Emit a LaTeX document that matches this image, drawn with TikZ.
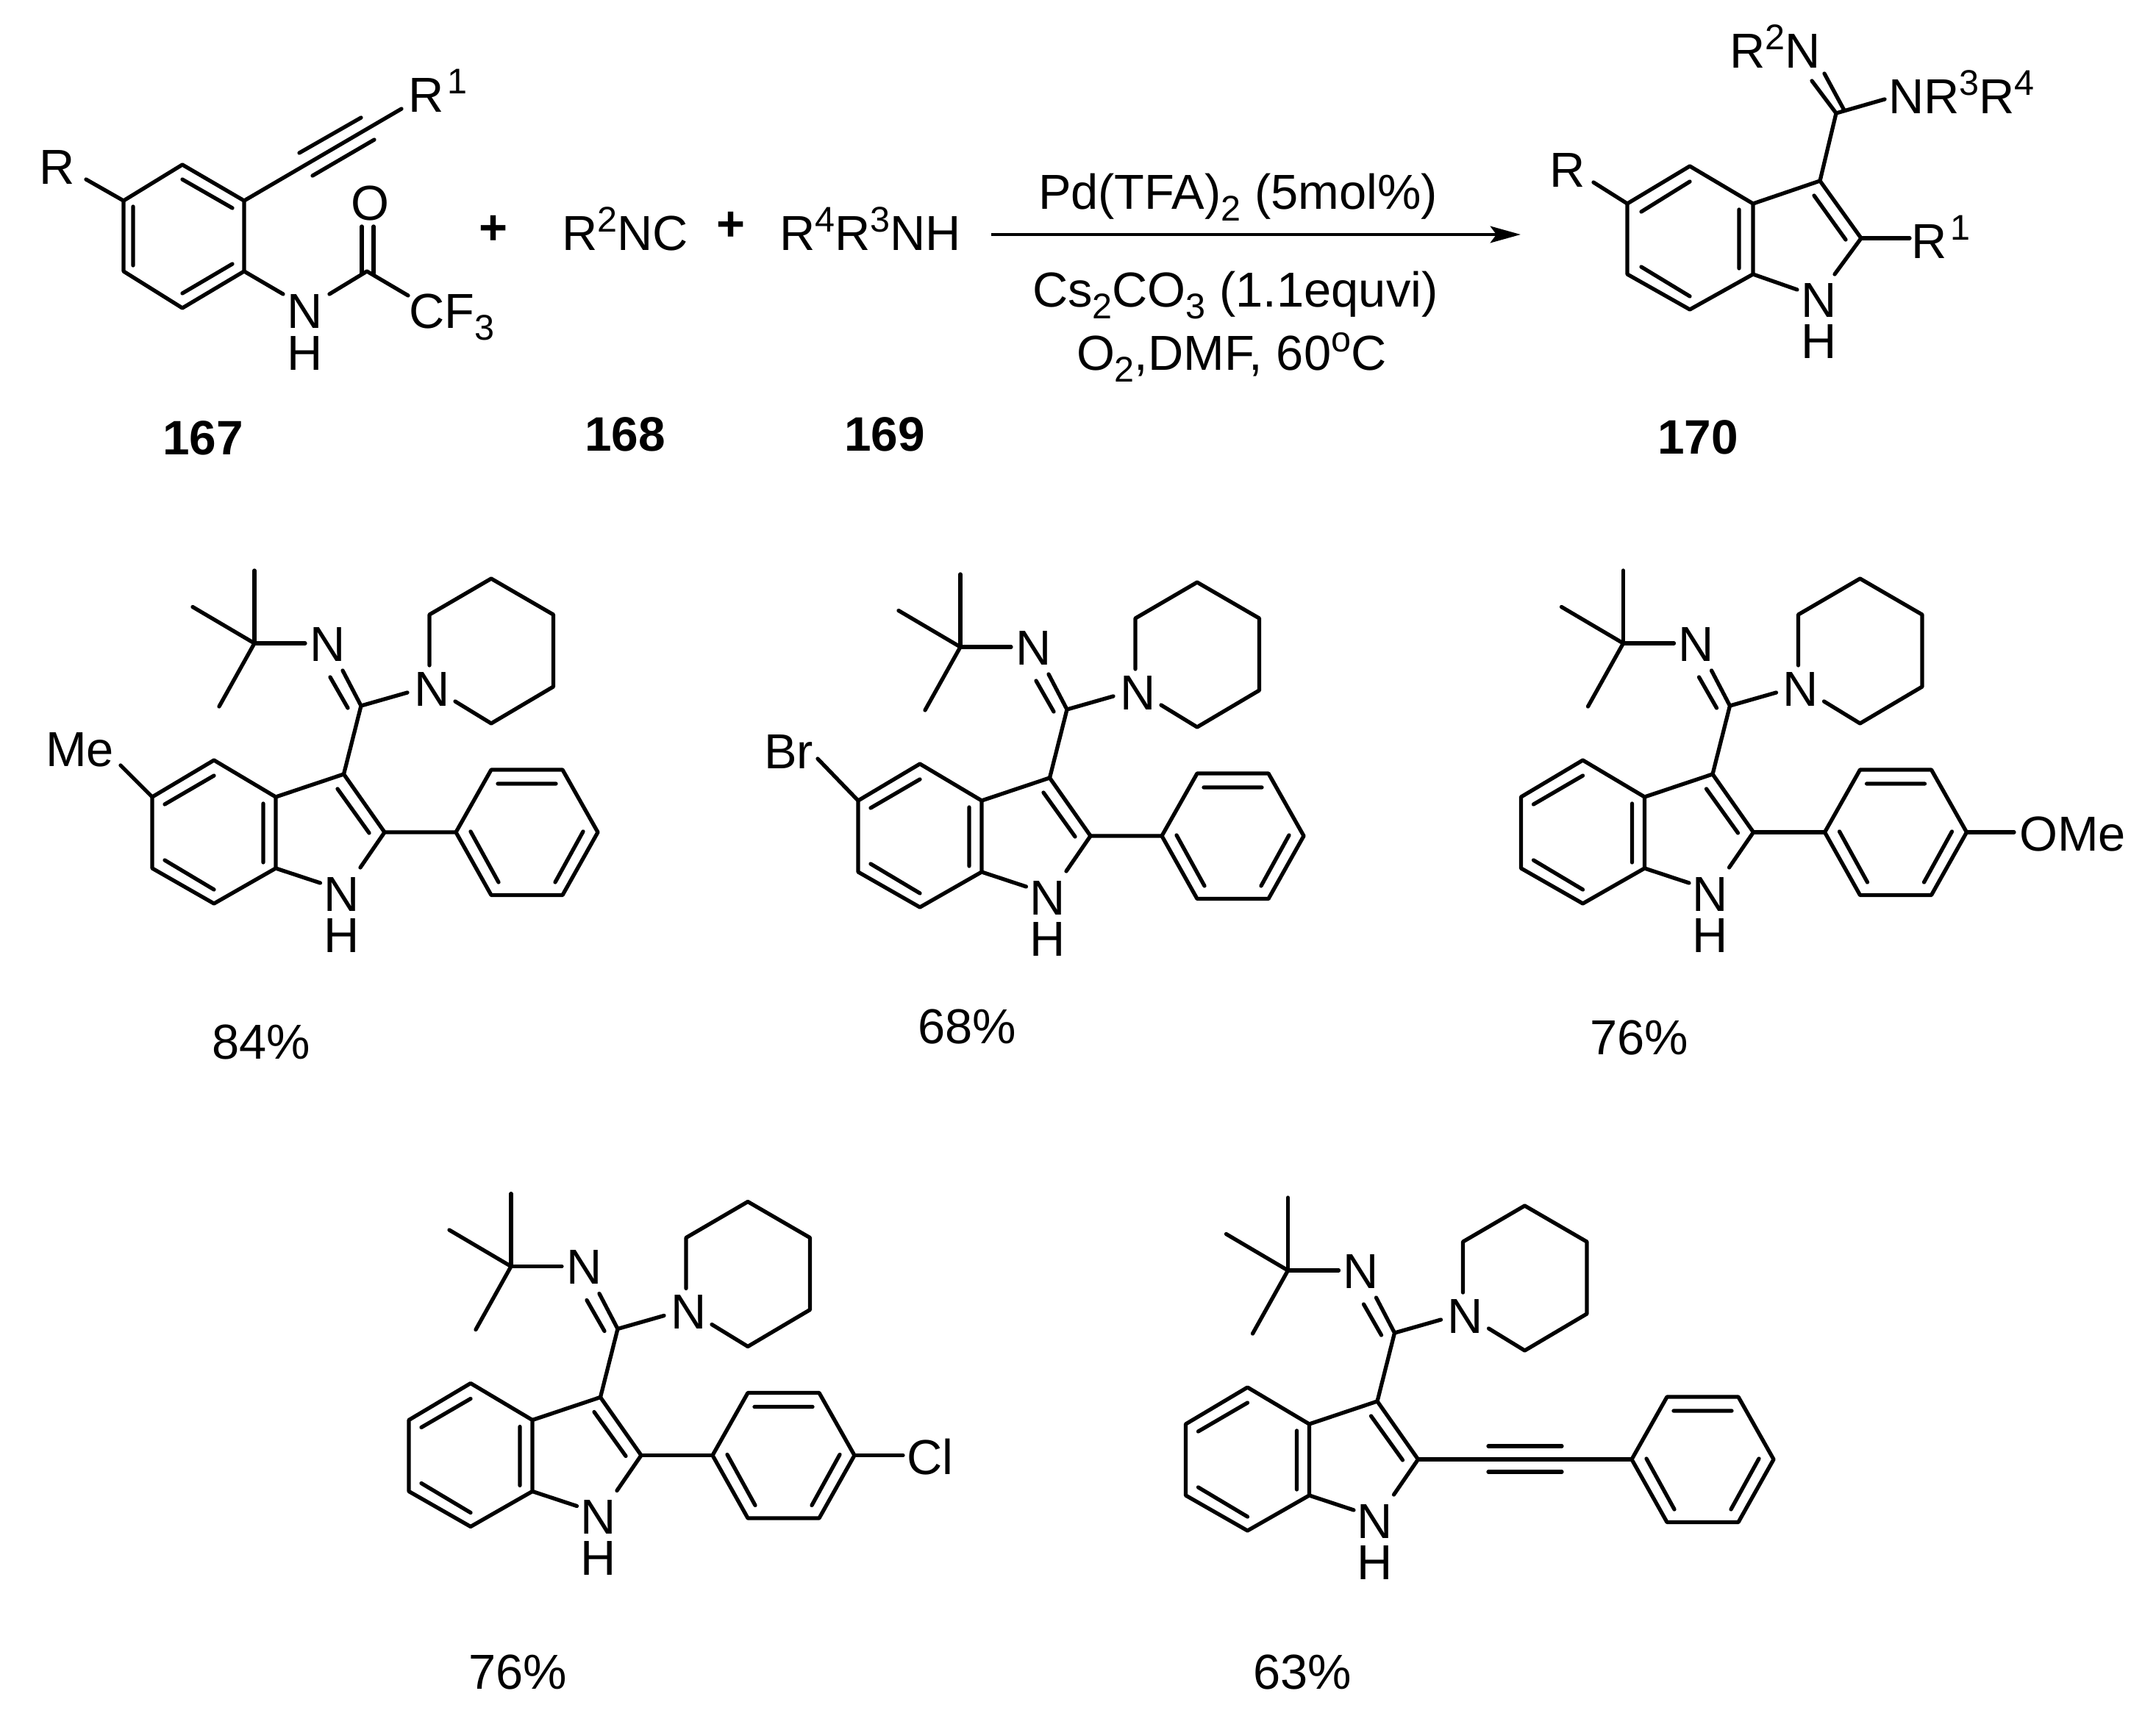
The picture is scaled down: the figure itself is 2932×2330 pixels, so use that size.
\documentclass[tikz,border=0pt]{standalone}
\usepackage{fontspec}
\setmainfont{Liberation Sans}
\usetikzlibrary{arrows.meta}
\newcommand\supx[1]{\raisebox{7pt}{\fontsize{13.8}{13.8}\selectfont #1}}
\newcommand\subx[1]{\raisebox{-4.6pt}{\fontsize{13.8}{13.8}\selectfont #1}}
\tikzset{
  bond/.style={line width=1.5pt,line cap=round,line join=round,black},
  atom/.style={inner sep=0pt,outer sep=0pt,anchor=base west,font=\fontsize{19}{19}\selectfont},
  lab/.style={inner sep=0pt,outer sep=0pt,anchor=base,font=\fontsize{19}{19}\selectfont},
  cmpd/.style={inner sep=0pt,outer sep=0pt,anchor=base,font=\fontsize{18.7}{18.7}\selectfont\bfseries},
  plus/.style={inner sep=0pt,outer sep=0pt,font=\fontsize{19}{19}\selectfont\bfseries}
}
% indole amidine template, in the frame of the first product
\newcommand\amidine[3]{%
\begin{scope}[shift={(#2,#3)},name prefix=#1-]
  \draw[bond] (207,1084)--(291,1034)--(375,1084)--(375,1181)--(291,1229)--(207,1181)--cycle;
  \draw[bond] (224,1094)--(291,1055) (358,1093)--(358,1173) (224,1170)--(291,1210);
  \draw[bond] (375,1084)--(467.5,1053)--(523,1132)--(490,1180);
  \draw[bond] (375,1181)--(435.5,1201);
  \draw[bond] (459,1073)--(502,1133);
  \draw[bond] (467.5,1053)--(491,960)--(466,912);
  \draw[bond] (473,963)--(449,921);
  \draw[bond] (491,960)--(554,942);
  \draw[bond] (584,905)--(584,836)--(668,787)--(752.5,836)--(752.5,934)--(668,984)--(619,954);
  \draw[bond] (346,776)--(346,875)--(415,875);
  \draw[bond] (262,825.5)--(346,875)--(298,961);
  \node[atom] (nim) at (421,899) {N};
  \node[atom] (nam) at (563,960) {N};
  \node[atom] (nh) at (440,1239) {N};
  \node[atom] (hh) at (440,1295) {H};
\end{scope}}
\newcommand\phenyl[2]{%
\begin{scope}[shift={(#1,#2)}]
  \draw[bond] (0,0)--(48,-85)--(145,-85)--(193,0)--(145,85.5)--(48,85.5)--cycle;
  \draw[bond] (57,-66)--(136,-66) (20,-1)--(58,68) (173,-1)--(135,68);
\end{scope}}
\begin{document}
\begin{tikzpicture}[x=0.01cm,y=-0.01cm]
\useasboundingbox (0,0) rectangle (2932,2330);
% 167
\draw[bond] (168,273)--(248,224)--(332,273)--(332,369)--(248,419)--(168,369)--cycle;
\draw[bond] (248,244)--(316,283) (181,281)--(181,361) (248,399)--(316,359);
\draw[bond] (117,244)--(168,273);
\draw[bond] (332,273)--(546,148);
\draw[bond] (407,208)--(491,160) (425,239)--(509,190);
\draw[bond] (332,369)--(385,400);
\draw[bond] (448,400)--(499,369)--(555,402);
\draw[bond] (492,308)--(492,372) (508,308)--(508,372);
\node[atom] (r167) at (53,250) {R};
\node[atom] (r1a) at (555,152) {R\hspace{1.5pt}\supx{1}};
\node[atom] (o167) at (477,299) {O};
\node[atom] (n167) at (390,446) {N};
\node[atom] (h167) at (390,503) {H};
\node[atom] (cf3) at (556,446) {CF\subx{3}};
\node[cmpd] (c167) at (276,618) {167};
\node[plus] (p1) at (671,313) {+};
% 168, 169
\node[atom] (r2nc) at (764,340) {R\supx{2}NC};
\node[plus] (p2) at (994,308) {+};
\node[atom] (amine) at (1060,340) {R\supx{4}R\supx{3}NH};
\node[cmpd] (c168) at (850,613) {168};
\node[cmpd] (c169) at (1203,613) {169};
% arrow
\coordinate (as) at (1348,319);
\coordinate (ae) at (2068,319);
\draw[line width=1.4pt,-{Stealth[length=11.7pt,width=6.4pt,inset=2.3pt]}] (as)--(ae);
\node[atom] (cond1) at (1412,284) {Pd(TFA)\subx{2} (5mol\%)};
\node[atom] (cond2) at (1404,417) {Cs\subx{2}CO\subx{3} (1.1equvi)};
\node[atom] (cond3) at (1464,503) {O\subx{2},DMF, 60\supx{o}C};
% 170
\draw[bond] (2213,277)--(2298,226)--(2384,277)--(2384,373)--(2298,421)--(2213,373)--cycle;
\draw[bond] (2232,288)--(2298,247) (2365,285)--(2365,365) (2232,363)--(2298,403);
\draw[bond] (2167,248)--(2213,277);
\draw[bond] (2384,277)--(2475,246)--(2531,324)--(2495,373);
\draw[bond] (2384,373)--(2444,394);
\draw[bond] (2467,266)--(2510,326);
\draw[bond] (2531,324)--(2597,324);
\draw[bond] (2475,246)--(2497,154)--(2563,135);
\draw[bond] (2497,154)--(2464,110) (2508,150)--(2481,100);
\node[atom] (r170) at (2107,254) {R};
\node[atom] (r2n) at (2352,92) {R\supx{2}N};
\node[atom] (nr3r4) at (2568,154) {NR\supx{3}R\supx{4}};
\node[atom] (r1b) at (2599,351) {R\hspace{1.5pt}\supx{1}};
\node[atom] (n170) at (2449,431) {N};
\node[atom] (h170) at (2449,487) {H};
\node[cmpd] (c170) at (2309,617) {170};
% product 1
\amidine{a}{0}{0}
\draw[bond] (164,1041)--(207,1084) (523,1132)--(620,1132);
\phenyl{620}{1132}
\node[atom] (me) at (62,1042) {Me};
\node[lab] (y1) at (355,1440) {84\%};
% product 2
\amidine{b}{960}{5}
\draw[bond] (1112,1032)--(1167,1089) (1483,1137)--(1580,1137);
\phenyl{1580}{1137}
\node[atom] (br) at (1039,1045) {Br};
\node[lab] (y2) at (1315,1419) {68\%};
% product 3
\amidine{c}{1861.5}{0}
\draw[bond] (2384.5,1132)--(2481.5,1132) (2674.5,1132)--(2739,1132);
\phenyl{2481.5}{1132}
\node[atom] (ome) at (2746,1157) {OMe};
\node[lab] (y3) at (2229,1434) {76\%};
% product 4
\amidine{d}{349}{847.5}
\draw[bond] (872,1979.5)--(969,1979.5) (1162,1979.5)--(1228,1979.5);
\phenyl{969}{1979.5}
\node[atom] (cl) at (1233,2005) {Cl};
\node[lab] (y4) at (704,2297) {76\%};
% product 5
\amidine{e}{1405.5}{853}
\draw[bond] (1928.5,1985)--(2219,1985);
\draw[bond] (2024,1967)--(2124,1967) (2024,2002)--(2124,2002);
\phenyl{2219}{1985}
\node[lab] (y5) at (1771,2297) {63\%};
\end{tikzpicture}
\end{document}
